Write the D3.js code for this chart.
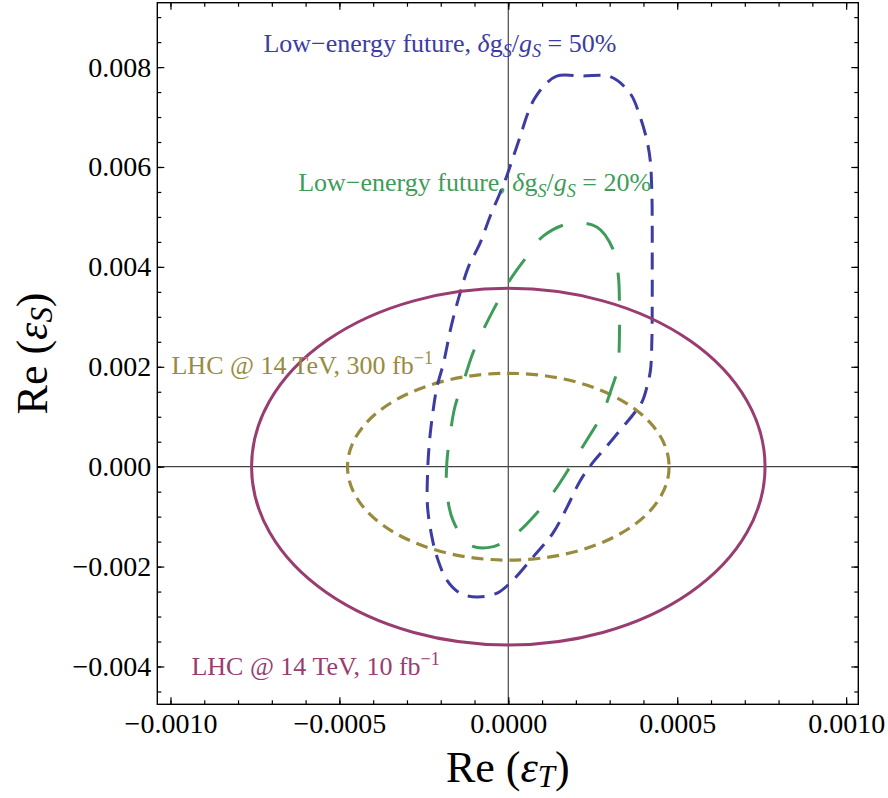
<!DOCTYPE html>
<html>
<head>
<meta charset="UTF-8">
<script src="https://d3js.org/d3.v7.min.js"></script>
<style>
  body { margin: 0; background: #fff; }
  svg { display: block; font-family: "Liberation Serif", "Times New Roman", serif; }
</style>
</head>
<body>
<svg></svg>
<script>
// tick values
const xMajor = [-0.001, -0.0005, 0, 0.0005, 0.001];
const yMajor = [-0.004, -0.002, 0, 0.002, 0.004, 0.006, 0.008];

// LHC ellipses, centred at the origin: [rx, ry]
const lhcCenter = [0, 0];
const lhc10 = [0.00076, 0.00357];
const lhc300 = [0.000476, 0.00187];

// low-energy contours, [Re eps_T, Re eps_S]
const lowE50 = [
  [0.000104, 0.00761], [0.000143, 0.00782], [0.000221, 0.00782], [0.000301, 0.00781],
  [0.000360, 0.00748], [0.000390, 0.00701], [0.000410, 0.00654], [0.000420, 0.00614],
  [0.000425, 0.00547], [0.000426, 0.00480], [0.000426, 0.00414], [0.000426, 0.00334],
  [0.000425, 0.00254], [0.000421, 0.00194], [0.000414, 0.00170], [0.000396, 0.00130],
  [0.000369, 0.00104], [0.000331, 0.00073], [0.000289, 0.00039], [0.000251, 0.00009],
  [0.000212, -0.00029], [0.000174, -0.00081], [0.000132, -0.00133], [0.000073, -0.00181],
  [0.000014, -0.00227], [-0.000033, -0.00253], [-0.000093, -0.00261], [-0.000143, -0.00253],
  [-0.000182, -0.00227], [-0.000211, -0.00181], [-0.000226, -0.00141], [-0.000239, -0.00081],
  [-0.000239, -0.00013], [-0.000233, 0.00053], [-0.000221, 0.00120], [-0.000211, 0.00160],
  [-0.000192, 0.00207], [-0.000168, 0.00284], [-0.000143, 0.00347], [-0.000118, 0.00400],
  [-0.000084, 0.00447], [-0.000054, 0.00501], [-0.000025, 0.00547], [-0.000005, 0.00581],
  [0.000015, 0.00621], [0.000035, 0.00661], [0.000057, 0.00706], [0.000076, 0.00735]
];
const lowE20 = [
  [0.000183, 0.00487], [0.000262, 0.00480], [0.000311, 0.00434], [0.000326, 0.00380],
  [0.000329, 0.00320], [0.000329, 0.00264], [0.000326, 0.00210], [0.000319, 0.00184],
  [0.000306, 0.00157], [0.000277, 0.00104], [0.000232, 0.00053], [0.000183, 0.00000],
  [0.000138, -0.00047], [0.000084, -0.00093], [0.000025, -0.00133], [-0.000044, -0.00160],
  [-0.000113, -0.00157], [-0.000164, -0.00107], [-0.000182, -0.00047], [-0.000182, 0.00007],
  [-0.000173, 0.00060], [-0.000158, 0.00120], [-0.000133, 0.00170], [-0.000105, 0.00227],
  [-0.000074, 0.00274], [-0.000034, 0.00327], [0.000005, 0.00374], [0.000054, 0.00420],
  [0.000104, 0.00462]
];

const width = 888, height = 798;
const margin = {left: 157.3, right: 29.7, top: 2.7, bottom: 93.7};
const blue = "#3c3ca2", green = "#3d9d58", olive = "#998b3d", magenta = "#993d71";

const svg = d3.select("svg").attr("width", width).attr("height", height);

const x = d3.scaleLinear().domain([-0.001039, 0.001036]).range([margin.left, width - margin.right]);
const y = d3.scaleLinear().domain([-0.004757, 0.009289]).range([height - margin.bottom, margin.top]);

const xMinor = d3.range(-10, 11).map(d => d / 10000);
const yMinor = d3.range(-9, 19).map(d => d / 2000);

// axes through origin
svg.append("line").attr("x1", x(0)).attr("x2", x(0)).attr("y1", y.range()[0]).attr("y2", y.range()[1])
  .attr("stroke", "#555").attr("stroke-width", 1.3);
svg.append("line").attr("y1", y(0)).attr("y2", y(0)).attr("x1", x.range()[0]).attr("x2", x.range()[1])
  .attr("stroke", "#444").attr("stroke-width", 1.3);

// ellipses
svg.append("ellipse")
  .attr("cx", x(lhcCenter[0])).attr("cy", y(lhcCenter[1]))
  .attr("rx", x(lhc300[0]) - x(0)).attr("ry", y(0) - y(lhc300[1]))
  .attr("fill", "none").attr("stroke", olive).attr("stroke-width", 3.2)
  .attr("stroke-dasharray", "12,7");

const line = d3.line().x(d => x(d[0])).y(d => y(d[1])).curve(d3.curveCatmullRomClosed);

svg.append("path").attr("d", line(lowE20))
  .attr("fill", "none").attr("stroke", green).attr("stroke-width", 3)
  .attr("stroke-dasharray", "28,24");

svg.append("path").attr("d", line(lowE50))
  .attr("fill", "none").attr("stroke", blue).attr("stroke-width", 3)
  .attr("stroke-dasharray", "17,10");

svg.append("ellipse")
  .attr("cx", x(lhcCenter[0])).attr("cy", y(lhcCenter[1]))
  .attr("rx", x(lhc10[0]) - x(0)).attr("ry", y(0) - y(lhc10[1]))
  .attr("fill", "none").attr("stroke", magenta).attr("stroke-width", 3);

// frame with inward ticks
function tickAxis(axisFn, scale, vals, size, transform) {
  svg.append("g").attr("transform", transform)
    .call(axisFn(scale).tickValues(vals).tickSize(size).tickFormat(""))
    .call(g => g.select(".domain").remove())
    .selectAll("line").attr("stroke", "#000").attr("stroke-width", 1.2);
}
const B = height - margin.bottom, R = width - margin.right;
tickAxis(d3.axisBottom, x, xMinor, -4, `translate(0,${B})`);
tickAxis(d3.axisBottom, x, xMajor, -7, `translate(0,${B})`);
tickAxis(d3.axisTop, x, xMinor, -4, `translate(0,${margin.top})`);
tickAxis(d3.axisTop, x, xMajor, -7, `translate(0,${margin.top})`);
tickAxis(d3.axisLeft, y, yMinor, -4, `translate(${margin.left},0)`);
tickAxis(d3.axisLeft, y, yMajor, -7, `translate(${margin.left},0)`);
tickAxis(d3.axisRight, y, yMinor, -4, `translate(${R},0)`);
tickAxis(d3.axisRight, y, yMajor, -7, `translate(${R},0)`);

svg.append("rect").attr("x", margin.left).attr("y", margin.top)
  .attr("width", R - margin.left).attr("height", B - margin.top)
  .attr("fill", "none").attr("stroke", "#000").attr("stroke-width", 1.4);

// tick labels
svg.append("g").attr("transform", `translate(0,${B})`)
  .call(d3.axisBottom(x).tickValues(xMajor).tickSize(0).tickPadding(9).tickFormat(d3.format(".4f")))
  .call(g => g.select(".domain").remove())
  .selectAll("text").attr("fill", "#000").style("font-size", "28px").style("font-family", "Liberation Serif");
svg.append("g").attr("transform", `translate(${margin.left},0)`)
  .call(d3.axisLeft(y).tickValues(yMajor).tickSize(0).tickPadding(6).tickFormat(d3.format(".3f")))
  .call(g => g.select(".domain").remove())
  .selectAll("text").attr("fill", "#000").style("font-size", "28px").style("font-family", "Liberation Serif");

// text with sub/superscripts
function rich(px, py, parts, color, size, anchor, rotate, subShift) {
  const t = svg.append("text").attr("x", px).attr("y", py).attr("fill", color)
    .style("font-size", size + "px").attr("text-anchor", anchor || "start");
  if (rotate) t.attr("transform", `rotate(-90,${px},${py})`);
  let shift = 0;
  parts.forEach(p => {
    const s = t.append("tspan").text(p.t);
    const target = p.sub ? size * (subShift || 0.22) : p.sup ? -size * 0.4 : 0;
    if (target !== shift) { s.attr("dy", target - shift); shift = target; }
    if (p.sub || p.sup) s.style("font-size", (size * 0.7) + "px");
    if (p.it) s.style("font-style", "italic");
  });
}

const gsParts = pct => [
  {t: "Low\u2212energy future, "}, {t: "\u03b4", it: true}, {t: "g"}, {t: "S", it: true, sub: true},
  {t: "/"}, {t: "g", it: true}, {t: "S", it: true, sub: true}, {t: " = " + pct + "%"}
];
rich(x(-0.000725), y(0.00831), gsParts(50), blue, 26);
rich(x(-0.000622), y(0.00551), gsParts(20), green, 26);
rich(x(-0.000997), y(0.00185), [{t: "LHC @ 14 TeV, 300 fb"}, {t: "\u22121", sup: true}], olive, 26);
rich(x(-0.000938), y(-0.00417), [{t: "LHC @ 14 TeV, 10 fb"}, {t: "\u22121", sup: true}], magenta, 26);

// axis titles
rich((margin.left + R) / 2, 782, [{t: "Re ("}, {t: "\u03b5", it: true}, {t: "T", it: true, sub: true}, {t: ")"}], "#000", 44, "middle", false, 0.12);
rich(46.7, (margin.top + B) / 2, [{t: "Re ("}, {t: "\u03b5", it: true}, {t: "S", it: true, sub: true}, {t: ")"}], "#000", 44, "middle", true, 0.12);
</script>
</body>
</html>
